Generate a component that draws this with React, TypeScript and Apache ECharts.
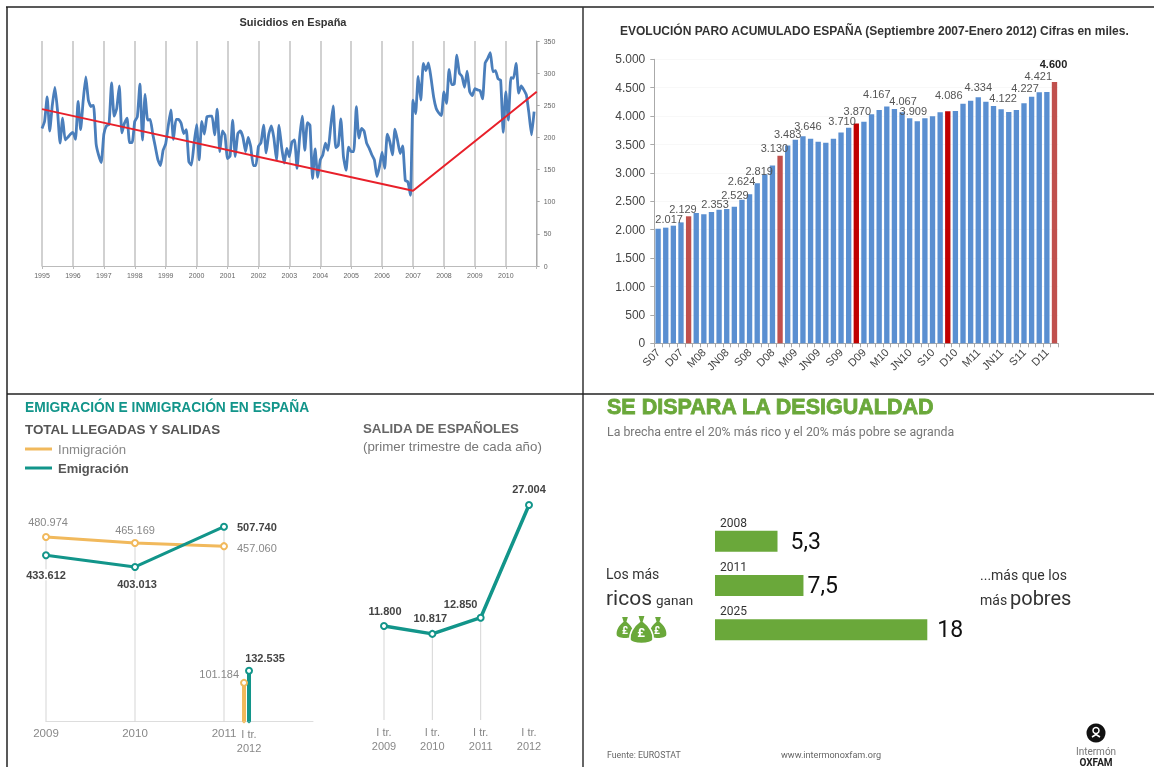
import React, { useEffect, useRef } from "react";
import * as echarts from "echarts";

// ---- Panel 1: Suicidios en España (monthly, 1995-2010)
const years = ["1995","1996","1997","1998","1999","2000","2001","2002","2003","2004","2005","2006","2007","2008","2009","2010"];
const s1995 = [214,225,263,210,250,278,243,191,230,196,200,205];
const s1996 = [208,197,256,212,258,294,258,248,250,190,172,161];
const s1997 = [205,218,220,285,233,245,280,207,222,230,192,192];
const s1998 = [225,232,283,196,267,227,228,205,185,165,156,180];
const s1999 = [190,218,243,197,228,228,222,206,212,162,157,190];
const s2000 = [220,165,225,205,232,233,233,204,244,178,210,204];
const s2001 = [167,171,227,170,206,210,200,178,200,186,156,156];
const s2002 = [186,192,219,176,205,218,199,165,219,185,160,183];
const s2003 = [170,193,196,152,200,233,180,223,219,136,182,138];
const s2004 = [165,173,191,180,215,249,184,188,229,170,149,185];
const s2005 = [178,178,248,199,214,210,191,183,173,165,139,155];
const s2006 = [177,152,205,193,173,213,195,175,187,133,131,110];
const s2007 = [258,237,295,258,315,304,316,292,263,245,238,234];
const s2008 = [271,253,306,282,283,328,300,295,278,303,271,265];
const s2009 = [276,274,273,260,316,323,332,302,304,291,289,208];
const s2010 = [271,227,293,292,315,269,280,274,266,237,204,240];
const trendStart = 244;
const trendBreak = 117;
const trendEnd = 271;

// ---- Panel 2: Paro acumulado
const paroMonths = ["S07","O07","N07","D07","E08","F08","M08","A08","MY08","JN08","JL08","AG08","S08","O08","N08","D08","E09","F09","M09","A09","MY09","JN09","JL09","AG09","S09","O09","N09","D09","E10","F10","M10","A10","MY10","JN10","JL10","AG10","S10","O10","N10","D10","E11","F11","M11","A11","MY11","JN11","JL11","AG11","S11","O11","N11","D11","E12"];
const paroValues = [2017,2036,2071,2129,2236,2294,2271,2312,2353,2365,2406,2529,2624,2819,2975,3130,3304,3483,3585,3646,3603,3550,3532,3603,3710,3797,3870,3902,4031,4107,4167,4125,4067,3960,3909,3960,3996,4066,4086,4090,4219,4272,4334,4254,4178,4122,4072,4107,4227,4342,4421,4424,4600];
const paroLabelled = [0,3,8,11,12,13,15,17,19,24,26,30,32,34,38,42,45,48,50,52];
const paroDarkRed = [26,38];
const paroSoftRed = [4,16,52];

// ---- Panel 3: Emigración e inmigración
const totalYears = [2009,2010,2011];
const inmigracion = [480974,465169,457060];
const emigracion = [433612,403013,507740];
const inmigracionQ1 = 101184;
const emigracionQ1 = 132535;
const salidaCats = ["I tr.\n2009","I tr.\n2010","I tr.\n2011","I tr.\n2012"];
const salidaValues = [11800,10817,12850,27004];

// ---- Panel 4: Desigualdad
const desigYears = ["2008","2011","2025"];
const desigValues = [5.3,7.5,18];

// ---- Layout and styling (not data)
const paroOffsets: Record<number, number[]> = {0:[11,1],3:[2,-3],8:[-4,5],11:[-7,6],12:[-8,-3],13:[2,-2],15:[2,-7],17:[0,-1],19:[5,0],24:[1,-1],26:[1,-2],30:[-10,-2],32:[1,-1],34:[-4,0],38:[1,-6],42:[0,0],45:[2,-1],48:[1,-5],50:[-1,-6],52:[-1,-8]};
const SANS = "'Liberation Sans', Arial, sans-serif";
const ROBOTO = "Roboto, sans-serif";
const TEAL = "#12958a";
const ORANGE = "#f1b95c";
const GREEN = "#6aa83a";
const dots = (n: number) => String(n).replace(/\B(?=(\d{3})+$)/g, ".");

echarts.graphic.registerShape("moneybag", echarts.graphic.extendPath(
  "M34 0 L66 0 L58 22 C84 38 100 62 96 82 C92 100 8 100 4 82 C0 62 16 38 42 22 Z", {}));

function txt(text: string, x: number, y: number, size: number, fill: string, opts: any = {}) {
  const { weight, family, align, ...rest } = opts;
  return {
    type: "text", x, y, silent: true,
    style: {
      text, fill, fontSize: size, fontWeight: weight || "normal",
      fontFamily: family || SANS, textAlign: align || "left", textVerticalAlign: "middle", ...rest,
    },
  };
}
const ln = (x1: number, y1: number, x2: number, y2: number, stroke: string, lineWidth: number) => ({
  type: "line", silent: true, shape: { x1, y1, x2, y2 }, style: { stroke, lineWidth },
});
const bag = (x: number, y: number, sx: number, sy: number, stroke?: string) => ({
  type: "moneybag", x, y, scaleX: sx, scaleY: sy, silent: true,
  style: { fill: GREEN, stroke: stroke || GREEN, lineWidth: stroke ? 6 : 0 },
});

function buildOption() {
  const suicidios = [...s1995,...s1996,...s1997,...s1998,...s1999,...s2000,...s2001,...s2002,...s2003,...s2004,...s2005,...s2006,...s2007,...s2008,...s2009,...s2010];
  const suicCats = years.flatMap((y) => Array.from({ length: 12 }, () => y)).concat("");
  const trend: (number | null)[] = suicCats.map(() => null);
  trend[0] = trendStart;
  trend[144] = trendBreak;
  trend[192] = trendEnd;

  const paroData = paroValues.map((v, i) => ({
    value: v,
    itemStyle: { color: paroDarkRed.includes(i) ? "#c00000" : paroSoftRed.includes(i) ? "#c0504d" : "#5a8fd1" },
    label: paroLabelled.includes(i)
      ? { show: true, position: "top", offset: paroOffsets[i], formatter: dots(v), fontSize: 11, color: i === 52 ? "#222" : "#555", fontWeight: i === 52 ? "bold" : "normal", fontFamily: SANS }
      : { show: false },
  }));

  const lab = (position: string, offset: number[], bold: boolean, bg = false) => ({
    show: true, position, offset, fontSize: 11, fontFamily: SANS,
    fontWeight: bold ? "bold" : "normal", color: bold ? "#444" : "#888",
    backgroundColor: bg ? "#fff" : "transparent",
    formatter: (p: any) => dots(Array.isArray(p.value) ? p.value[1] : p.value),
  });
  const inmLabels = [lab("top",[2,0],false), lab("top",[0,1],false), lab("right",[4,2],false)];
  const emiLabels = [lab("bottom",[0,5],true,true), lab("bottom",[2,3],true,true), lab("right",[4,0],true)];
  const salLabels = [lab("top",[1,-1],true), lab("top",[-2,-1],true), lab("top",[-20,1],true), lab("top",[0,-2],true)];

  const stems = totalYears.map((y, i) => ({
    type: "line", name: "guia " + y, xAxisIndex: 2, yAxisIndex: 2, z: 1, symbol: "none", clip: false,
    data: [[y, 0], [y, Math.max(inmigracion[i], emigracion[i])]],
    lineStyle: { color: "#d5d5d5", width: 1 },
  }));
  const q1Series = (name: string, x: number, v: number, color: string, z: number, topLabel: any, baseLabel?: any) => ({
    type: "line", name, xAxisIndex: 2, yAxisIndex: 2, z, clip: false, symbol: "emptyCircle", symbolSize: 6,
    itemStyle: { color }, lineStyle: { color, width: 4 },
    data: [
      { value: [x, 0], symbolSize: 1, label: baseLabel || { show: false } },
      { value: [x, v], label: topLabel },
    ],
  });

  return {
    animation: false,
    backgroundColor: "#fff",
    grid: [
      { left: 42, top: 41, width: 494.7, height: 225 },
      { left: 654.3, top: 59.3, width: 404, height: 284 },
      { left: 46, top: 526.7, width: 267, height: 195 },
      { left: 384, top: 505, width: 145, height: 215 },
      { left: 715, top: 519, width: 212.3, height: 133 },
    ],
    xAxis: [
      {
        type: "category", gridIndex: 0, data: suicCats, boundaryGap: false,
        axisLine: { lineStyle: { color: "#bbb", width: 1 } },
        axisTick: { show: true, interval: 11, length: 3, lineStyle: { color: "#bbb" } },
        axisLabel: { interval: 11, fontSize: 7, color: "#666", margin: 6, fontFamily: SANS },
        splitLine: { show: true, interval: 11, lineStyle: { color: "#c2c2c2", width: 1.5 } },
      },
      {
        type: "category", gridIndex: 1, data: paroMonths,
        axisLine: { lineStyle: { color: "#aaa" } },
        axisTick: { show: true, interval: 0, length: 4, lineStyle: { color: "#aaa" } },
        axisLabel: { interval: 2, rotate: 45, fontSize: 11, color: "#444", margin: 7, fontFamily: SANS },
      },
      {
        type: "value", gridIndex: 2, min: 2009, max: 2012, interval: 1,
        axisLine: { show: true, lineStyle: { color: "#ddd" } }, axisTick: { show: false }, splitLine: { show: false },
        axisLabel: { showMaxLabel: false, formatter: (v: number) => String(v), fontSize: 11.5, color: "#888", margin: 5, fontFamily: SANS },
      },
      {
        type: "category", gridIndex: 3, data: salidaCats, boundaryGap: false,
        axisLine: { show: false }, axisTick: { show: false },
        axisLabel: { interval: 0, fontSize: 11, lineHeight: 14, color: "#888", margin: 5, fontFamily: SANS },
      },
      { type: "value", gridIndex: 4, min: 0, max: 18, show: false },
    ],
    yAxis: [
      {
        type: "value", gridIndex: 0, position: "right", min: 0, max: 350, interval: 50,
        axisLine: { show: true, lineStyle: { color: "#aaa" } },
        axisTick: { show: true, length: 3, lineStyle: { color: "#aaa" } },
        axisLabel: { fontSize: 7, color: "#666", margin: 7, fontFamily: SANS },
        splitLine: { show: false },
      },
      {
        type: "value", gridIndex: 1, min: 0, max: 5000, interval: 500,
        axisLine: { show: true, lineStyle: { color: "#aaa" } },
        axisTick: { show: true, length: 4, lineStyle: { color: "#aaa" } },
        axisLabel: { formatter: (v: number) => dots(v), fontSize: 12, color: "#444", margin: 9, fontFamily: SANS },
        splitLine: { show: true, lineStyle: { color: "#f8f8f8" } },
      },
      { type: "value", gridIndex: 2, min: 0, max: 507740, show: false },
      { type: "value", gridIndex: 3, min: 0, max: 27004, show: false },
      {
        type: "category", gridIndex: 4, data: desigYears, inverse: true,
        axisLine: { show: false }, axisTick: { show: false }, axisLabel: { show: false },
      },
    ],
    series: [
      {
        type: "line", name: "Suicidios", xAxisIndex: 0, yAxisIndex: 0, data: suicidios, symbol: "none", z: 3,
        lineStyle: { color: "#4a7ebb", width: 2.8 }, smooth: 0.15,
      },
      {
        type: "line", name: "Tendencia", xAxisIndex: 0, yAxisIndex: 0, data: trend, connectNulls: true, symbol: "none", z: 4,
        lineStyle: { color: "#e8202a", width: 2 },
      },
      { type: "bar", name: "Paro", xAxisIndex: 1, yAxisIndex: 1, data: paroData, barWidth: "70%" },
      ...stems,
      {
        type: "line", name: "Inmigración", xAxisIndex: 2, yAxisIndex: 2, z: 3, clip: false, symbol: "emptyCircle", symbolSize: 6,
        data: totalYears.map((y, i) => ({ value: [y, inmigracion[i]], label: inmLabels[i] })),
        lineStyle: { color: ORANGE, width: 3 }, itemStyle: { color: ORANGE },
      },
      {
        type: "line", name: "Emigración", xAxisIndex: 2, yAxisIndex: 2, z: 4, clip: false, symbol: "emptyCircle", symbolSize: 6,
        data: totalYears.map((y, i) => ({ value: [y, emigracion[i]], label: emiLabels[i] })),
        lineStyle: { color: TEAL, width: 3 }, itemStyle: { color: TEAL },
      },
      q1Series("Inmigración I tr. 2012", 2011.225, inmigracionQ1, ORANGE, 3, lab("left", [4, -9], false)),
      q1Series("Emigración I tr. 2012", 2011.281, emigracionQ1, TEAL, 3, lab("top", [16, 2], true), {
        show: true, position: "bottom", distance: 4, formatter: "I tr.\n2012", fontSize: 11, lineHeight: 14, color: "#888", fontFamily: SANS,
      }),
      {
        type: "bar", name: "guias salida", xAxisIndex: 3, yAxisIndex: 3, barWidth: 1, z: 1,
        data: salidaValues.slice(0, 3).concat([null as any]), itemStyle: { color: "#d5d5d5" },
      },
      {
        type: "line", name: "Salida de españoles", xAxisIndex: 3, yAxisIndex: 3, z: 3, clip: false, symbol: "emptyCircle", symbolSize: 6,
        data: salidaValues.map((v, i) => ({ value: v, label: salLabels[i] })),
        lineStyle: { color: TEAL, width: 3.5 }, itemStyle: { color: TEAL },
      },
      {
        type: "bar", name: "Desigualdad", xAxisIndex: 4, yAxisIndex: 4, barWidth: 21, itemStyle: { color: GREEN },
        data: desigValues.map((v, i) => ({
          value: v,
          label: {
            show: true, position: "right", distance: [13, 4, 10][i], fontSize: 23, color: "#111", fontFamily: ROBOTO,
            formatter: String(v).replace(".", ","),
          },
        })),
      },
      {
        type: "bar", name: "Años", xAxisIndex: 4, yAxisIndex: 4, barWidth: 21, barGap: "-100%", itemStyle: { color: "transparent" },
        data: desigValues,
        label: { show: true, position: "insideLeft", distance: 5, offset: [0, -18.5], formatter: "{b}", fontSize: 12, color: "#333", fontFamily: ROBOTO },
      },
    ],
    graphic: [
      // table rules
      ln(6, 7, 1154, 7, "#222", 1.5),
      ln(7, 7, 7, 767, "#222", 1.5),
      ln(583, 7, 583, 767, "#333", 1.5),
      ln(7, 394, 1154, 394, "#222", 1.5),
      // panel 1 & 2 titles
      txt("Suicidios en España", 293, 22, 11, "#333", { weight: "bold", align: "center" }),
      txt("EVOLUCIÓN PARO ACUMULADO ESPAÑA (Septiembre 2007-Enero 2012) Cifras en miles.", 620, 31, 12, "#333", { weight: "bold" }),
      // panel 3 headings
      txt("EMIGRACIÓN E INMIGRACIÓN EN ESPAÑA", 25, 407, 13.8, TEAL, { weight: "bold" }),
      txt("TOTAL LLEGADAS Y SALIDAS", 25, 429, 13.4, "#555", { weight: "bold" }),
      ln(25, 449, 52, 449, ORANGE, 3),
      txt("Inmigración", 58, 449, 13.2, "#888"),
      ln(25, 468, 52, 468, TEAL, 3),
      txt("Emigración", 58, 468, 13, "#555", { weight: "bold" }),
      txt("SALIDA DE ESPAÑOLES", 363, 428, 13.3, "#666", { weight: "bold" }),
      txt("(primer trimestre de cada año)", 363, 446, 13.3, "#777"),
      // panel 4 text
      txt("SE DISPARA LA DESIGUALDAD", 607, 407, 21.5, GREEN, { weight: "bold", stroke: GREEN, lineWidth: 0.8 }),
      txt("La brecha entre el 20% más rico y el 20% más pobre se agranda", 607, 432, 12.35, "#777", { family: ROBOTO }),
      txt("Los más", 606, 574, 14, "#333", { family: ROBOTO }),
      txt("ricos", 606, 598, 21, "#333", { family: ROBOTO }),
      txt("ganan", 656, 600, 13.5, "#333", { family: ROBOTO }),
      bag(616, 617, 0.18, 0.22),
      bag(649, 617, 0.18, 0.22),
      bag(629, 615, 0.25, 0.3, "#fff"),
      txt("£", 625, 630, 10, "#fff", { family: ROBOTO, weight: "bold", align: "center" }),
      txt("£", 657, 630, 10, "#fff", { family: ROBOTO, weight: "bold", align: "center" }),
      txt("£", 641, 632, 13, "#fff", { family: ROBOTO, weight: "bold", align: "center" }),
      txt("...más que los", 980, 575, 14, "#333", { family: ROBOTO }),
      txt("más", 980, 600, 14, "#333", { family: ROBOTO }),
      txt("pobres", 1010, 598, 20, "#333", { family: ROBOTO }),
      txt("Fuente: EUROSTAT", 607, 755, 8.8, "#666", { family: ROBOTO }),
      txt("www.intermonoxfam.org", 781, 755, 9.1, "#666", { family: ROBOTO }),
      { type: "circle", silent: true, shape: { cx: 1096, cy: 733, r: 9.5 }, style: { fill: "#111" } },
      { type: "circle", silent: true, shape: { cx: 1096, cy: 730.5, r: 3 }, style: { fill: "none", stroke: "#fff", lineWidth: 1.5 } },
      { type: "polyline", silent: true, shape: { points: [[1092, 737], [1096, 734.5], [1100, 737]] }, style: { fill: "none", stroke: "#fff", lineWidth: 1.5 } },
      txt("Intermón", 1096, 751, 10, "#777", { family: ROBOTO, align: "center" }),
      txt("OXFAM", 1096, 762, 10, "#222", { family: ROBOTO, weight: "bold", align: "center" }),
    ],
  };
}

export default function App() {
  const ref = useRef<HTMLDivElement>(null);
  useEffect(() => {
    const chart = echarts.init(ref.current!, undefined, { renderer: "svg" });
    chart.setOption(buildOption() as any);
    return () => chart.dispose();
  }, []);
  return (
    <div
      ref={ref}
      style={{ position: "fixed", left: 0, top: 0, width: 1154, height: 767, filter: "blur(0.4px)" }}
    />
  );
}
